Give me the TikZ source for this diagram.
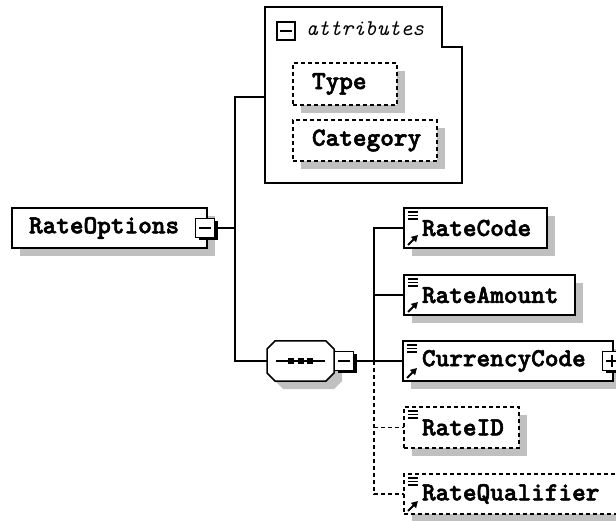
\documentclass[tikz,border=0pt]{standalone}
\usepackage{fontspec}
\newfontfamily\lmboldtt{lmmonolt10-bold.otf}[FakeBold=2.2]
\newfontfamily\lmittt{lmmono10-italic.otf}
\usetikzlibrary{shadows,arrows.meta,calc}
\definecolor{shadowgray}{RGB}{192,192,192}
\newcommand\liststroke[1]{\foreach \dy in {4,7.5,11} \draw[line width=1.3pt] ($(#1.north west)+(4,\dy)$) -- ++(10,0);}
\newcommand\refarrow[1]{\draw[line width=2pt,-{Triangle[length=6.5pt,width=7pt]}] ($(#1.south west)+(4,-3)$) -- ++(10,-10);}
\begin{document}
\begin{tikzpicture}[x=1pt,y=-1pt,
  every node/.style={inner sep=0pt, outer sep=0pt},
  lbl/.style={font=\fontsize{26}{26}\selectfont\lmboldtt, align=left},
  elem/.style={lbl, draw, line width=1.5pt, fill=white, anchor=north west, rectangle,
    drop shadow={shadow xshift=8pt, shadow yshift=-8pt, fill=shadowgray, opacity=1}},
  opt/.style={elem, dash pattern=on 4pt off 3pt},
  ctrl/.style={draw, line width=1.5pt, fill=white, minimum size=19pt,
    drop shadow={shadow xshift=3pt, shadow yshift=-3pt, fill=black, opacity=1}},
  conn/.style={line width=1.5pt},
  optconn/.style={conn, dash pattern=on 4pt off 3pt}
]
\useasboundingbox (0,0) rectangle (616,521);
\clip (0,0) rectangle (616,521);

% attributes container
\draw[conn, fill=white] (265,7) -- (442,7) -- (442,47) -- (462,47) -- (462,183) -- (265,183) -- cycle;
\coordinate (attrL) at (265,97);
\node[draw, line width=2.2pt, fill=white, minimum size=18pt] (attrminus) at (286,31) {};
\draw[line width=1.6pt] ($(attrminus.center)+(-6,0)$) -- ($(attrminus.center)+(6,0)$);
\node[font=\fontsize{22.5}{22.5}\selectfont\lmittt, anchor=west] (attrtxt) at (306,29) {attributes};

\node[opt, minimum width=104pt, minimum height=42pt, inner xsep=19pt, text width=66pt] (type) at (293,63) {Type};
\node[opt, minimum width=144pt, minimum height=41pt, inner xsep=19pt, text width=106pt] (cat) at (293,120) {Category};

% root element
\node[elem, minimum width=195pt, minimum height=40pt, inner xsep=17pt, text width=161pt] (ro) at (12,208) {RateOptions};
\node[ctrl] (rominus) at (205,228) {};
\draw[conn] ($(rominus.center)+(-6,0)$) -- ($(rominus.center)+(6,0)$);

% sequence compositor
\fill[shadowgray] (283,349) -- (334,349) -- (342,357) -- (342,381) -- (334,389) -- (283,389) -- (275,381) -- (275,357) -- cycle;
\draw[conn, fill=white] (275,341) -- (326,341) -- (334,349) -- (334,373) -- (326,381) -- (275,381) -- (267,373) -- (267,349) -- cycle;
\coordinate (seqL) at (267,361);
\draw[conn] (276,361) -- (325,361);
\fill (288,358) rectangle (294,364);
\fill (297.5,358) rectangle (303.5,364);
\fill (307,358) rectangle (313,364);
\node[ctrl] (seqminus) at (344,361) {};
\draw[conn] ($(seqminus.center)+(-6,0)$) -- ($(seqminus.center)+(6,0)$);

% left connectors
\coordinate (j1) at (235,228);
\draw[conn] (rominus.east) -- (j1);
\draw[conn] (attrL) -| (j1) |- (seqL);

% child elements
\node[elem, minimum width=143pt, minimum height=40pt, inner xsep=18pt, text width=107pt] (rc) at (404,208) {RateCode};
\node[elem, minimum width=171pt, minimum height=40pt, inner xsep=18pt, text width=135pt] (ra) at (404,275) {RateAmount};
\node[elem, minimum width=210pt, minimum height=40pt, inner xsep=19pt, text width=172pt] (cc) at (403,341) {CurrencyCode};
\node[opt, minimum width=115pt, minimum height=41pt, inner xsep=18pt, text width=79pt] (rid) at (404,407) {RateID};
\node[opt, minimum width=236pt, minimum height=40pt, inner xsep=18pt, text width=200pt] (rq) at (404,474) {RateQualifier};

\node[ctrl] (ccplus) at (612,361) {};
\draw[conn] ($(ccplus.center)+(-6,0)$) -- ($(ccplus.center)+(6,0)$);
\draw[conn] ($(ccplus.center)+(0,-6)$) -- ($(ccplus.center)+(0,6)$);

\liststroke{rc} \refarrow{rc}
\liststroke{ra} \refarrow{ra}
\liststroke{cc} \refarrow{cc}
\liststroke{rid}
\liststroke{rq} \refarrow{rq}

% right connectors
\coordinate (j2) at (374,361);
\draw[conn] (seqminus.east) -- (cc.west);
\draw[conn] (rc.west) -| (j2);
\draw[conn] (ra.west) -- (ra.west -| j2);
\draw[optconn] (j2) |- (rq.west);
\draw[optconn] (rid.west -| j2) -- (rid.west);
\end{tikzpicture}
\end{document}
